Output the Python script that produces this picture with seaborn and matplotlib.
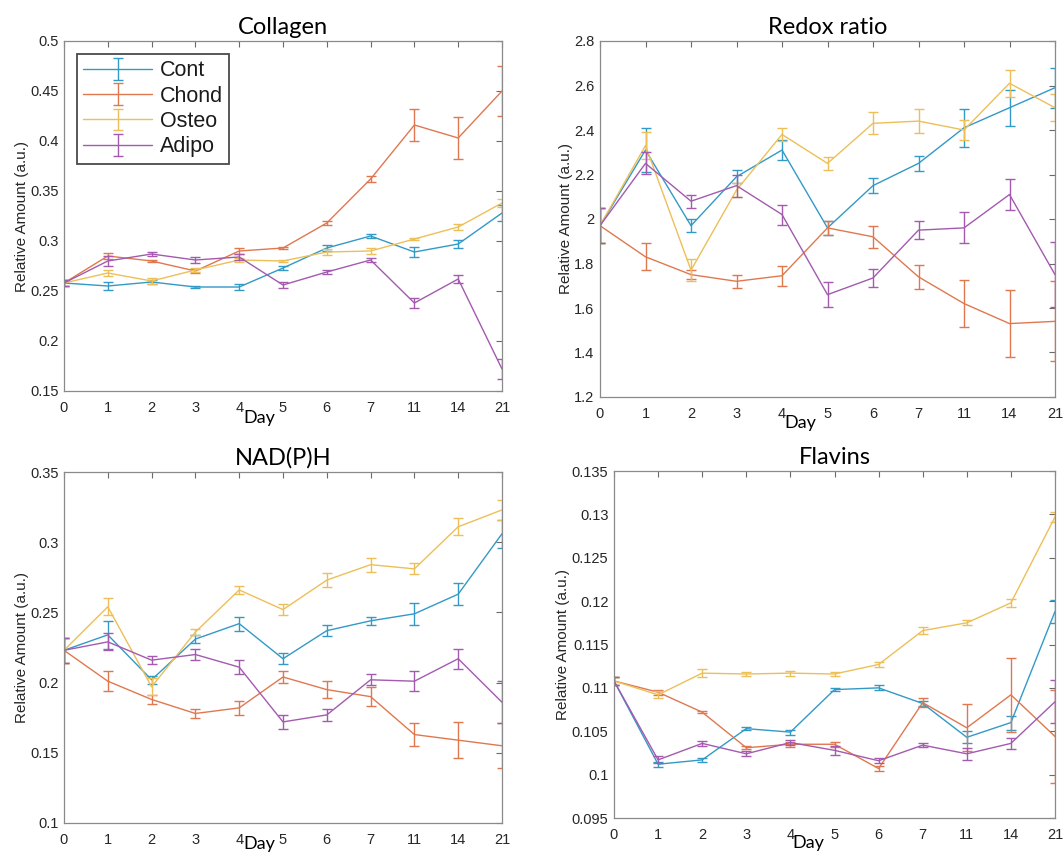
import numpy as np
import pandas as pd
import matplotlib
matplotlib.use("Agg")
import matplotlib.pyplot as plt
import seaborn as sns
from matplotlib.legend_handler import HandlerTuple
from matplotlib.ticker import FuncFormatter

# ---------------- data ----------------
days = [0, 1, 2, 3, 4, 5, 6, 7, 11, 14, 21]
groups = ["Cont", "Chond", "Osteo", "Adipo"]
colors = ["#3399C6", "#E0784F", "#EDBF58", "#A35AAF"]

# Collagen
col_cont = [0.258, 0.255, 0.259, 0.254, 0.254, 0.273, 0.293, 0.305, 0.289, 0.297, 0.328]
col_cont_err = [0.003, 0.004, 0.002, 0.001, 0.003, 0.002, 0.003, 0.002, 0.005, 0.004, 0.008]
col_chond = [0.258, 0.285, 0.280, 0.270, 0.290, 0.293, 0.318, 0.362, 0.416, 0.403, 0.450]
col_chond_err = [0.003, 0.003, 0.001, 0.002, 0.003, 0.001, 0.002, 0.003, 0.016, 0.021, 0.025]
col_osteo = [0.258, 0.268, 0.260, 0.271, 0.281, 0.280, 0.289, 0.290, 0.302, 0.314, 0.338]
col_osteo_err = [0.003, 0.003, 0.003, 0.002, 0.002, 0.001, 0.003, 0.003, 0.001, 0.003, 0.004]
col_adipo = [0.258, 0.280, 0.287, 0.281, 0.284, 0.256, 0.269, 0.281, 0.238, 0.262, 0.172]
col_adipo_err = [0.003, 0.005, 0.002, 0.003, 0.003, 0.003, 0.002, 0.002, 0.005, 0.004, 0.010]

# Redox ratio
red_cont = [1.97, 2.31, 1.97, 2.19, 2.31, 1.96, 2.15, 2.25, 2.41, 2.50, 2.59]
red_cont_err = [0.08, 0.10, 0.03, 0.03, 0.045, 0.03, 0.035, 0.035, 0.085, 0.08, 0.09]
red_chond = [1.97, 1.83, 1.75, 1.72, 1.745, 1.96, 1.92, 1.74, 1.62, 1.53, 1.54]
red_chond_err = [0.08, 0.06, 0.02, 0.03, 0.045, 0.03, 0.05, 0.055, 0.105, 0.15, 0.18]
red_osteo = [1.97, 2.33, 1.77, 2.13, 2.38, 2.25, 2.43, 2.44, 2.40, 2.61, 2.50]
red_osteo_err = [0.08, 0.06, 0.05, 0.03, 0.03, 0.03, 0.05, 0.055, 0.045, 0.06, 0.06]
red_adipo = [1.97, 2.25, 2.08, 2.15, 2.02, 1.66, 1.735, 1.95, 1.96, 2.11, 1.75]
red_adipo_err = [0.08, 0.05, 0.03, 0.05, 0.045, 0.055, 0.04, 0.04, 0.07, 0.07, 0.145]

# NAD(P)H
nad_cont = [0.223, 0.234, 0.202, 0.231, 0.242, 0.217, 0.237, 0.244, 0.249, 0.263, 0.306]
nad_cont_err = [0.009, 0.010, 0.003, 0.003, 0.005, 0.004, 0.004, 0.003, 0.008, 0.008, 0.010]
nad_chond = [0.223, 0.201, 0.188, 0.178, 0.182, 0.204, 0.195, 0.190, 0.163, 0.159, 0.155]
nad_chond_err = [0.009, 0.007, 0.003, 0.003, 0.005, 0.004, 0.006, 0.007, 0.008, 0.013, 0.016]
nad_osteo = [0.223, 0.254, 0.197, 0.236, 0.266, 0.252, 0.273, 0.284, 0.281, 0.311, 0.323]
nad_osteo_err = [0.009, 0.006, 0.006, 0.002, 0.003, 0.004, 0.005, 0.005, 0.004, 0.006, 0.007]
nad_adipo = [0.223, 0.229, 0.216, 0.220, 0.211, 0.172, 0.177, 0.202, 0.201, 0.217, 0.186]
nad_adipo_err = [0.009, 0.006, 0.003, 0.004, 0.005, 0.005, 0.004, 0.004, 0.007, 0.007, 0.015]

# Flavins
fla_cont = [0.1108, 0.1012, 0.1017, 0.1053, 0.1049, 0.1098, 0.1100, 0.1082, 0.1043, 0.1060, 0.1188]
fla_cont_err = [0.0005, 0.0003, 0.0002, 0.0002, 0.0003, 0.0002, 0.0003, 0.0003, 0.0007, 0.0008, 0.0013]
fla_chond = [0.1108, 0.1095, 0.1072, 0.1031, 0.1035, 0.1035, 0.1007, 0.1083, 0.1054, 0.1092, 0.1044]
fla_chond_err = [0.0005, 0.0003, 0.0001, 0.0002, 0.0003, 0.0003, 0.0003, 0.0005, 0.0027, 0.0043, 0.0054]
fla_osteo = [0.1108, 0.1092, 0.1117, 0.1116, 0.1117, 0.1116, 0.1127, 0.1166, 0.1175, 0.1198, 0.1297]
fla_osteo_err = [0.0005, 0.0004, 0.0005, 0.0002, 0.0003, 0.0002, 0.0003, 0.0004, 0.0003, 0.0005, 0.0006]
fla_adipo = [0.1108, 0.1017, 0.1036, 0.1024, 0.1037, 0.1028, 0.1016, 0.1034, 0.1024, 0.1036, 0.1084]
fla_adipo_err = [0.0005, 0.0004, 0.0003, 0.0003, 0.0003, 0.0005, 0.0003, 0.0002, 0.0007, 0.0006, 0.0025]

titles = ["Collagen", "Redox ratio", "NAD(P)H", "Flavins"]
ylims = [(0.15, 0.5), (1.2, 2.8), (0.1, 0.35), (0.095, 0.135)]
ysteps = [0.05, 0.2, 0.05, 0.005]

panels = [
    ([col_cont, col_chond, col_osteo, col_adipo],
     [col_cont_err, col_chond_err, col_osteo_err, col_adipo_err]),
    ([red_cont, red_chond, red_osteo, red_adipo],
     [red_cont_err, red_chond_err, red_osteo_err, red_adipo_err]),
    ([nad_cont, nad_chond, nad_osteo, nad_adipo],
     [nad_cont_err, nad_chond_err, nad_osteo_err, nad_adipo_err]),
    ([fla_cont, fla_chond, fla_osteo, fla_adipo],
     [fla_cont_err, fla_chond_err, fla_osteo_err, fla_adipo_err]),
]

# ---------------- layout (figure fractions) ----------------
W, H = 1064, 856
boxes_px = [  # left, top, right, bottom in pixels
    (64, 41, 502, 391),
    (600, 41, 1055, 397),
    (64, 472, 502, 823),
    (614, 471, 1055, 818),
]
day_label_xy = [(0.447, -0.055), (0.44, -0.05), (0.447, -0.036), (0.44, -0.05)]

sns.set_theme(style="white")
plt.rcParams["font.family"] = ["Liberation Sans", "DejaVu Sans"]
plt.rcParams["axes.edgecolor"] = "#8a8a8a"
plt.rcParams["axes.linewidth"] = 0.9

fig = plt.figure(figsize=(W / 100, H / 100), dpi=100)
fig.patch.set_facecolor("white")

pos = np.arange(len(days))

for k, ((vals_list, errs_list), title, ylim, ystep) in enumerate(zip(panels, titles, ylims, ysteps)):
    l, t, r, b = boxes_px[k]
    ax = fig.add_axes([l / W, 1 - b / H, (r - l) / W, (b - t) / H])
    ax.set_facecolor("white")
    handles = []
    for g, vals, errs, c in zip(groups, vals_list, errs_list, colors):
        df = pd.DataFrame({"pos": pos, "value": vals})
        sns.lineplot(data=df, x="pos", y="value", color=c, linewidth=1.0,
                     ax=ax, legend=False, errorbar=None)
        ln = ax.lines[-1]
        eb = ax.errorbar(pos, vals, yerr=errs, fmt="none", ecolor=c,
                         elinewidth=1.0, capsize=3.5, capthick=1.0)
        handles.append((ln, eb))
    ax.set_xlim(0, len(days) - 1)
    ax.set_ylim(*ylim)
    ax.set_xticks(pos)
    ax.set_xticklabels([str(d) for d in days])
    yt = np.arange(ylim[0], ylim[1] + ystep / 2, ystep)
    ax.set_yticks(yt)
    ax.yaxis.set_major_formatter(FuncFormatter(lambda v, p: f"{v:.4g}"))
    ax.tick_params(direction="in", top=True, right=True, length=4, width=0.8,
                   color="#6a6a6a", labelsize=10.5, labelcolor="#262626")
    ax.tick_params(axis="x", pad=7)
    ax.tick_params(axis="y", pad=4)
    for s in ax.spines.values():
        s.set_visible(True)
        s.set_color("#8a8a8a")
    ax.set_title(title, fontsize=17, family=["Lato", "DejaVu Sans"], color="black", pad=5)
    ax.set_ylabel("Relative Amount (a.u.)", fontsize=11, color="#262626", labelpad=1)
    ax.set_xlabel("Day", fontsize=13, family=["Lato", "DejaVu Sans"], color="black")
    ax.xaxis.set_label_coords(*day_label_xy[k])
    ax.grid(False)
    if k == 0:
        leg = ax.legend(handles, groups, handler_map={tuple: HandlerTuple(ndivide=1)},
                        loc="upper left", fontsize=15.5, frameon=True, fancybox=False,
                        edgecolor="#4a4a4a", framealpha=1, handlelength=3.2,
                        handletextpad=0.35, labelspacing=0.2, borderpad=0.3,
                        borderaxespad=0.6)
        leg.get_frame().set_linewidth(1.3)
        for txt in leg.get_texts():
            txt.set_color("#1a1a1a")

fig.savefig("out.png", dpi=100, facecolor="white")
